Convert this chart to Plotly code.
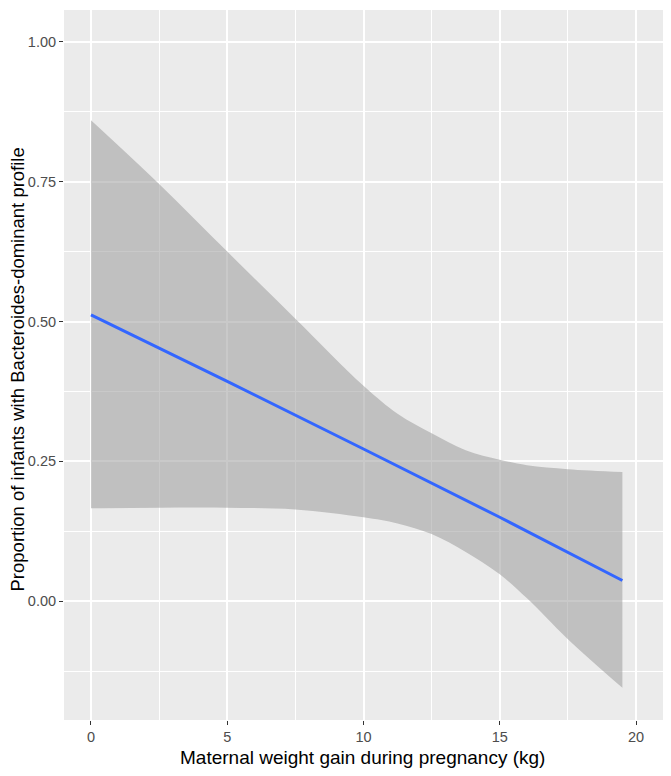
import plotly.graph_objects as go

# Confidence band
band_x = [0, 2.5, 5, 7.5, 10, 11.25, 12.5, 13.75, 15, 16, 17.5, 19.5]
band_upper = [0.860, 0.746, 0.625, 0.505, 0.385, 0.335, 0.300, 0.270, 0.253, 0.243, 0.236, 0.231]
band_lower = [0.166, 0.167, 0.167, 0.164, 0.150, 0.139, 0.120, 0.088, 0.048, 0.005, -0.068, -0.155]

# Fitted line
fit_x = [0, 5, 10, 15, 19.5]
fit_y = [0.512, 0.393, 0.272, 0.150, 0.037]

x_ticks = [0, 5, 10, 15, 20]
y_ticks = [0.00, 0.25, 0.50, 0.75, 1.00]
x_title = "Maternal weight gain during pregnancy (kg)"
y_title = "Proportion of infants with Bacteroides-dominant profile"

fig = go.Figure()
fig.add_trace(go.Scatter(
    x=band_x, y=band_upper, mode="lines",
    line=dict(width=0, shape="spline", smoothing=1.0),
    hoverinfo="skip", showlegend=False))
fig.add_trace(go.Scatter(
    x=band_x, y=band_lower, mode="lines", fill="tonexty",
    fillcolor="rgba(153,153,153,0.53)",
    line=dict(width=0, shape="spline", smoothing=1.0),
    hoverinfo="skip", showlegend=False))
fig.add_trace(go.Scatter(
    x=fit_x, y=fit_y, mode="lines",
    line=dict(color="#3366FF", width=3), showlegend=False))

axis_common = dict(
    showgrid=True, gridcolor="white", gridwidth=1.6,
    zeroline=False, showline=False, automargin=False,
    ticks="outside", ticklen=4, tickwidth=1, tickcolor="#333333",
    tickfont=dict(family="Liberation Sans, Arial", size=14.5, color="#4D4D4D"),
)

# the page body adds an 8px offset, so the figure is sized to fit inside it
fig.update_layout(
    width=663, height=768,
    margin=dict(l=56, r=8, t=2, b=56),
    paper_bgcolor="white", plot_bgcolor="#EBEBEB",
    font=dict(family="Liberation Sans, Arial"),
    xaxis=dict(range=[-0.99, 20.99], tickvals=x_ticks,
               ticktext=[str(v) for v in x_ticks],
               minor=dict(dtick=2.5, tick0=0, showgrid=True, gridcolor="white", gridwidth=0.8, ticks=""),
               **axis_common),
    yaxis=dict(range=[-0.2125, 1.057], tickvals=y_ticks,
               ticktext=[f"{v:.2f}" for v in y_ticks],
               minor=dict(dtick=0.125, tick0=0, showgrid=True, gridcolor="white", gridwidth=0.8, ticks=""),
               **axis_common),
    annotations=[
        dict(text=x_title, xref="paper", yref="paper", x=0.498, y=0,
             yshift=-37, xanchor="center", yanchor="middle", showarrow=False,
             font=dict(size=19, color="black")),
        dict(text=y_title, xref="paper", yref="paper", x=0, y=0.493,
             xshift=-46.5, xanchor="center", yanchor="middle", textangle=-90,
             showarrow=False, font=dict(size=18.5, color="black")),
    ],
)

fig.write_html("out.html")
